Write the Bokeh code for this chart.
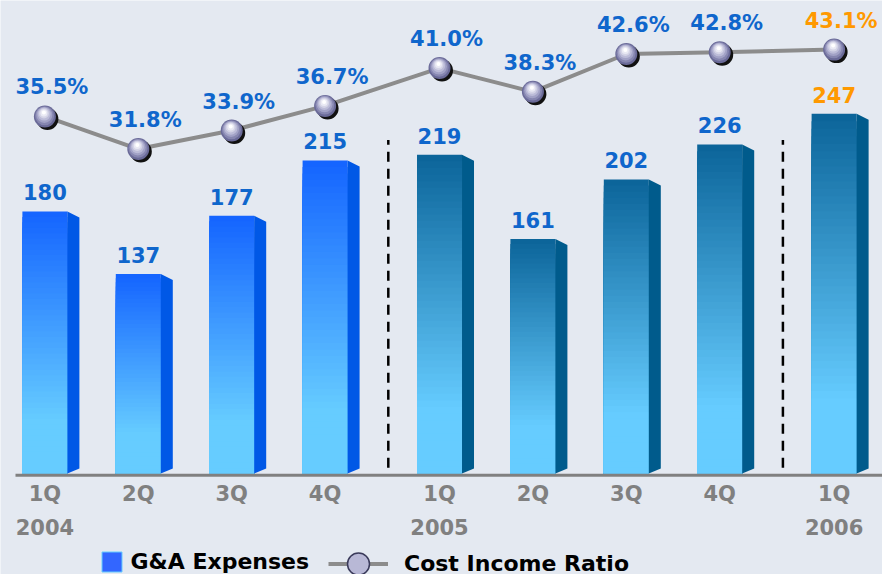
from bokeh.plotting import figure
from bokeh.models import Range1d, Legend, LegendItem
from bokeh.core.properties import value
from bokeh.embed import file_html
from bokeh.resources import INLINE

# ---------------- data ----------------
quarters = ["1Q", "2Q", "3Q", "4Q", "1Q", "2Q", "3Q", "4Q", "1Q"]
years = ["2004", "2004", "2004", "2004", "2005", "2005", "2005", "2005", "2006"]
ga_expenses = [180, 137, 177, 215, 219, 161, 202, 226, 247]
cost_income_ratio = [35.5, 31.8, 33.9, 36.7, 41.0, 38.3, 42.6, 42.8, 43.1]
series_names = ["G&A Expenses", "Cost Income Ratio"]

# ---------------- style / layout ----------------
W, H = 882, 574
BG = "#e4e9f1"
FONT_NAME = "DejaVu Sans"
FONT = value(FONT_NAME)
FS = "21px"
BLUE_TXT = "#0f66cc"
HILITE = "#ff9900"
GRAY_TXT = "#808080"
GROUP_GAP = 0.225

X_START, X_END = -0.4754, 8.968
Y_START, Y_END = -69.37, 324.86
R_START, R_END = -16.55, 48.68
PX_X = W / (X_END - X_START)
PX_Y = H / (Y_END - Y_START)
PX_R = H / (R_END - R_START)

FRONT_HALF = 22.5 / PX_X
SIDE_W = 12 / PX_X
SIDE_TOP_DROP = 6 / PX_Y
SIDE_BOT_RISE = 5 / PX_Y

# palettes per year group: (top, bottom, side)
PALETTES = [("#1464ff", "#66ccff", "#0058e6"),
            ("#0b6499", "#66ccff", "#005b8c"),
            ("#0b6499", "#66ccff", "#005b8c")]

year_order = list(dict.fromkeys(years))
grp = [year_order.index(y) for y in years]
xs = [i + GROUP_GAP * g for i, g in enumerate(grp)]
n = len(xs)


def hex2rgb(h):
    h = h.lstrip("#")
    return tuple(int(h[k:k + 2], 16) for k in (0, 2, 4))


def mix(c1, c2, t):
    a, b = hex2rgb(c1), hex2rgb(c2)
    return "#%02x%02x%02x" % tuple(int(round(a[k] + (b[k] - a[k]) * t)) for k in range(3))


p = figure(width=W, height=H, output_backend="svg", toolbar_location=None,
           x_range=Range1d(X_START, X_END), y_range=Range1d(Y_START, Y_END),
           x_axis_location=None, y_axis_location=None, min_border=0,
           background_fill_color=BG, border_fill_color=BG, outline_line_color=None)
p.grid.visible = False
p.extra_y_ranges = {"ratio": Range1d(R_START, R_END)}

# ---------------- bars (gradient front + side face) ----------------
N = 48
L, R, T, B, C = [], [], [], [], []
for k in range(N):
    for i in range(n):
        top_c, bot_c, _ = PALETTES[grp[i]]
        v = ga_expenses[i]
        t = (k + 0.5) / N
        L.append(xs[i] - FRONT_HALF)
        R.append(xs[i] + FRONT_HALF)
        B.append(0)
        T.append(v * (1 - k / N))
        C.append(mix(top_c, bot_c, min(t / 0.8, 1.0)))
p.quad(left=L, right=R, top=T, bottom=B, fill_color=C, line_color=None)

side_x, side_y, side_c = [], [], []
for i in range(n):
    xr = xs[i] + FRONT_HALF
    v = ga_expenses[i]
    side_x.append([xr, xr + SIDE_W, xr + SIDE_W, xr])
    side_y.append([v, v - SIDE_TOP_DROP, SIDE_BOT_RISE, 0])
    side_c.append(PALETTES[grp[i]][2])
p.patches(xs=side_x, ys=side_y, fill_color=side_c, line_color=None)

# baseline
p.segment(x0=[X_START + 15 / PX_X], x1=[X_END], y0=[-1.2], y1=[-1.2],
          line_color="#808080", line_width=3)

# dashed separators between years
for i in range(1, n):
    if grp[i] != grp[i - 1]:
        xm = (xs[i - 1] + xs[i]) / 2 + SIDE_W / 2
        p.segment(x0=[xm], x1=[xm], y0=[4], y1=[229], line_color="black",
                  line_width=2.5, line_dash="10 7")

# value labels
val_colors = [BLUE_TXT] * (n - 1) + [HILITE]
p.text(x=xs, y=ga_expenses, text=[str(v) for v in ga_expenses], text_font=FONT,
       text_font_size=FS, text_font_style="bold", text_align="center",
       text_baseline="middle", text_color=val_colors, y_offset=-19)

# ---------------- cost income ratio line with spheres ----------------
p.line(x=xs, y=cost_income_ratio, y_range_name="ratio", line_color="#8c8c8c",
       line_width=4)

SPHERE = [(22, "#111111", 2.5, 2.5),
          (22, "#6a6a98", 0, 0),
          (19, "#8686b0", -0.3, -0.8),
          (16, "#a2a2c6", -0.6, -1.6),
          (13, "#bcbcd8", -0.8, -2.4),
          (10, "#d4d4e6", -1.0, -3.0),
          (7, "#eaeaf4", -1.0, -3.5),
          (4, "#ffffff", -1.0, -4.0)]
for size, col, dx, dy in SPHERE:
    p.scatter(x=[x + dx / PX_X for x in xs],
              y=[r - dy / PX_R for r in cost_income_ratio],
              y_range_name="ratio", size=size, marker="circle",
              fill_color=col, line_color=None)

pct_colors = [BLUE_TXT] * (n - 1) + [HILITE]
p.text(x=xs, y=cost_income_ratio, y_range_name="ratio",
       text=["%.1f%%" % r for r in cost_income_ratio], text_font=FONT,
       text_font_size=FS, text_font_style="bold", text_align="center",
       text_baseline="middle", text_color=pct_colors, x_offset=7, y_offset=-29)

# ---------------- category labels ----------------
p.text(x=xs, y=[0] * n, text=quarters, text_font=FONT, text_font_size=FS,
       text_font_style="bold", text_align="center", text_baseline="middle",
       text_color=GRAY_TXT, y_offset=21)
yl_x = [xs[i] for i in range(n) if i == 0 or years[i] != years[i - 1]]
yl_t = [years[i] for i in range(n) if i == 0 or years[i] != years[i - 1]]
p.text(x=yl_x, y=[0] * len(yl_x), text=yl_t, text_font=FONT, text_font_size=FS,
       text_font_style="bold", text_align="center", text_baseline="middle",
       text_color=GRAY_TXT, y_offset=54)

# ---------------- legend (renderers sit outside the visible range) ----------------
far = X_END + 5
leg_bar = p.quad(left=[far], right=[far + 1], top=[1], bottom=[0],
                 fill_color="#3366ff", line_color="#66ccff", line_width=1)
leg_line = p.line(x=[far, far + 1], y=[0, 0], line_color="#8c8c8c", line_width=4)
leg_ball = p.scatter(x=[far], y=[0], marker="circle", fill_color="#b8b8d6",
                     line_color="#3a3a5a", line_width=1.5)

common = dict(orientation="horizontal", padding=0, margin=0, spacing=0,
              border_line_alpha=0, background_fill_alpha=0,
              label_text_font=FONT_NAME, label_text_font_size="22px",
              label_text_font_style="bold", label_text_color="black")
leg1 = Legend(items=[LegendItem(label=series_names[0], renderers=[leg_bar])],
              location=(98.5, 0.5), glyph_width=25, glyph_height=25,
              label_standoff=7, **common)
leg2 = Legend(items=[LegendItem(label=series_names[1], renderers=[leg_line, leg_ball])],
              location=(328, -16.5), glyph_width=60, glyph_height=55,
              label_standoff=16, **common)
p.add_layout(leg1)
p.add_layout(leg2)

open("out.html", "w").write(file_html(p, INLINE))
